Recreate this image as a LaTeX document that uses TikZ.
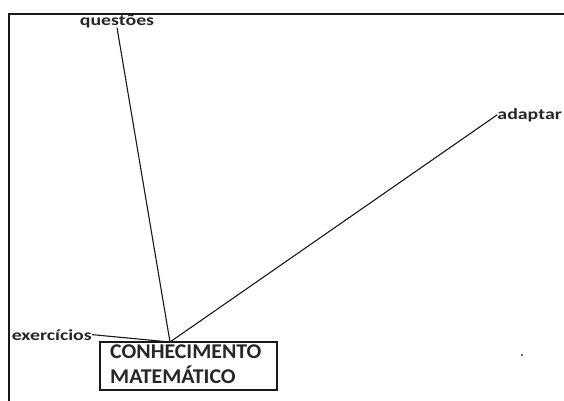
\documentclass[tikz,border=0pt]{standalone}
\usepackage{fontspec}
\setmainfont{Carlito}
\newfontfamily\widefont[FakeStretch=1.28]{Carlito}
\newfontfamily\boxfont[FakeStretch=1.04]{Carlito Bold}
\begin{document}
\begin{tikzpicture}[x=1pt,y=-1pt,
  lbl/.style={font=\widefont\bfseries\fontsize{15.5}{18}\selectfont, text=black!85, inner sep=0pt},
  boxtxt/.style={font=\boxfont\fontsize{21}{24}\selectfont, text=black!85, inner sep=0pt, anchor=base west},
  conn/.style={draw=black!90, line width=1.1pt},
  mainbox/.style={draw=black!90, line width=1.2pt, minimum width=177pt, minimum height=48pt, inner sep=0pt}]
\useasboundingbox (0,0) rectangle (564,400);
\fill[white] (0,0) rectangle (564,400);
\draw[black!90, line width=2pt] (9,405) -- (9,14) -- (570,14);
\node[mainbox] (box) at (188.5,366) {};
\node[boxtxt] (t1) at (110,358) {CONHECIMENTO};
\node[boxtxt] (t2) at (110,383) {MATEMÁTICO};
\coordinate (j) at (170,342);
\node[lbl, anchor=base] (q) at (117,25) {questões};
\node[lbl, anchor=base east] (a) at (562,119) {adaptar};
\node[lbl, anchor=base east] (e) at (92,340) {exercícios};
\draw[conn] (q.south) -- (j);
\draw[conn] (a.west) -- (j);
\draw[conn] (e.east) -- (j);
\fill[black!80] (522,355) circle (1.1);
\end{tikzpicture}
\end{document}
